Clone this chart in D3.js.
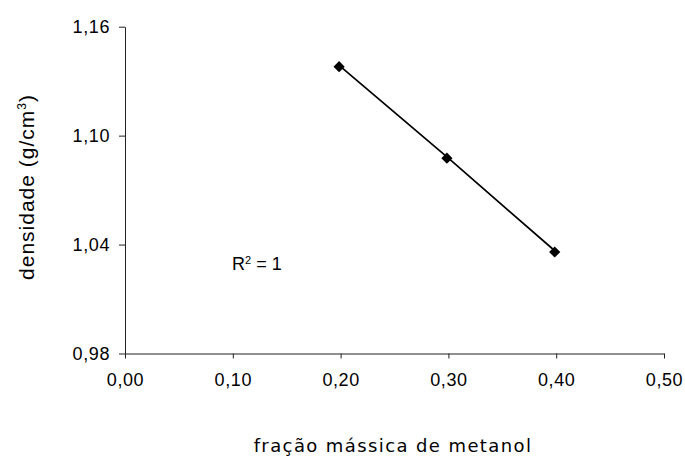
<!DOCTYPE html>
<html>
<head>
<meta charset="utf-8">
<script src="https://cdn.jsdelivr.net/npm/d3@7"></script>
<style>
  html, body { margin: 0; padding: 0; background: #fff; }
  svg { display: block; }
</style>
</head>
<body>
<svg id="chart" width="685" height="457"></svg>
<script>
// Density of methanol mixtures vs. methanol mass fraction
const massFraction = [0.20, 0.30, 0.40];
const density = [1.138, 1.0876, 1.0359];
const xTicks = [0.00, 0.10, 0.20, 0.30, 0.40, 0.50];
const yTicks = [0.98, 1.04, 1.10, 1.16];

const svg = d3.select("#chart");
const plotLeft = 125, plotRight = 664, plotTop = 26.7, plotBottom = 353.5;
const sans = "'Liberation Sans', Arial, sans-serif";

const x = d3.scaleLinear().domain([0, 0.5]).range([plotLeft, plotRight]);
const y = d3.scaleLinear().domain([0.98, 1.16]).range([plotBottom, plotTop]);
const fmt = d => d3.format(".2f")(d).replace(".", ",");

const xAxis = svg.append("g")
  .attr("transform", `translate(0,${plotBottom})`)
  .call(d3.axisBottom(x).tickValues(xTicks).tickFormat(fmt).tickSize(5).tickSizeOuter(0).tickPadding(15));
const yAxis = svg.append("g")
  .attr("transform", `translate(${plotLeft},0)`)
  .call(d3.axisLeft(y).tickValues(yTicks).tickFormat(fmt).tickSize(6).tickSizeOuter(0).tickPadding(9));

[xAxis, yAxis].forEach(g => {
  g.select(".domain").attr("stroke", "#222").attr("stroke-width", 1);
  g.selectAll(".tick line").attr("stroke", "#222");
  g.selectAll(".tick text")
    .attr("fill", "#000")
    .style("font-family", sans)
    .style("font-size", "18px")
    .style("letter-spacing", "0.6px");
});

// Data series
const pts = massFraction.map((v, i) => [v, density[i]]);
svg.append("path")
  .datum(pts)
  .attr("fill", "none")
  .attr("stroke", "#000")
  .attr("stroke-width", 1.7)
  .attr("d", d3.line().x(d => x(d[0])).y(d => y(d[1])));

svg.selectAll(".marker")
  .data(pts)
  .enter().append("path")
  .attr("class", "marker")
  .attr("transform", d => `translate(${x(d[0]) - 1.5},${y(d[1])})`)
  .attr("d", d3.symbol(d3.symbolDiamond2, 80)())
  .attr("fill", "#000");

// R² annotation
const r2 = svg.append("text")
  .attr("x", 232).attr("y", 269.5)
  .style("font-family", sans)
  .style("font-size", "18px")
  .attr("fill", "#000");
r2.append("tspan").text("R");
r2.append("tspan").attr("dy", -6).style("font-size", "11px").text("2");
r2.append("tspan").attr("dy", 6).text(" = 1");

// Axis titles
svg.append("text")
  .attr("x", 393).attr("y", 452)
  .attr("text-anchor", "middle")
  .style("font-family", "'DejaVu Sans', Verdana, sans-serif")
  .style("font-size", "18px")
  .style("letter-spacing", "1.4px")
  .attr("fill", "#000")
  .text("fração mássica de metanol");

const yl = svg.append("text")
  .attr("transform", "translate(34,187) rotate(-90)")
  .attr("text-anchor", "middle")
  .style("font-family", sans)
  .style("font-size", "21px")
  .style("letter-spacing", "1px")
  .attr("fill", "#000");
yl.append("tspan").text("densidade  (g/cm");
yl.append("tspan").attr("dy", -8).style("font-size", "12px").text("3");
yl.append("tspan").attr("dy", 8).text(")");
</script>
</body>
</html>
